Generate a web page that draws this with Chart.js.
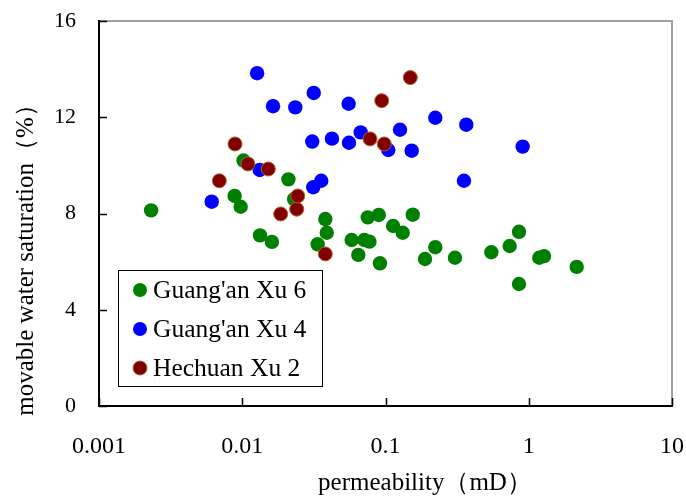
<!DOCTYPE html>
<html>
<head>
<meta charset="utf-8">
<script src="https://cdn.jsdelivr.net/npm/chart.js@4"></script>
<style>
  body { margin: 0; background: #fff; }
</style>
</head>
<body>
<canvas id="myChart" width="686" height="496"></canvas>
<script>
// axis ticks
const xTicks = [0.001, 0.01, 0.1, 1, 10];
const yTicks = [0, 4, 8, 12, 16];

// series names and axis titles
const names = ["Guang'an Xu 6", "Guang'an Xu 4", "Hechuan Xu 2"];
const xTitle = 'permeability（mD）';
const yTitle = 'movable water saturation（%）';

// Guang'an Xu 6 (green)
const xu6Perm = [0.00231, 0.00885, 0.00975, 0.0102, 0.0133, 0.0161, 0.021, 0.023, 0.0336, 0.038, 0.0389,
  0.058, 0.0646, 0.0711, 0.0752, 0.0772, 0.0897, 0.0915, 0.113, 0.1318, 0.155, 0.1887, 0.2227,
  0.3055, 0.548, 0.736, 0.855, 0.855, 1.185, 1.278, 2.161];
const xu6Sw = [8.13, 8.73, 8.28, 10.2, 7.09, 6.82, 9.42, 8.6, 6.72, 7.77, 7.2,
  6.9, 6.28, 6.9, 7.84, 6.83, 7.94, 5.93, 7.48, 7.2, 7.95, 6.11, 6.6,
  6.16, 6.39, 6.65, 7.24, 5.07, 6.16, 6.23, 5.78];

// Guang'an Xu 4 (blue)
const xu4Perm = [0.00612, 0.0127, 0.01324, 0.0164, 0.02346, 0.0308, 0.0313, 0.03155, 0.0356, 0.0423,
  0.0553, 0.0556, 0.0671, 0.1046, 0.1263, 0.1524, 0.2227, 0.353, 0.3664, 0.907];
const xu4Sw = [8.49, 13.83, 9.81, 12.46, 12.41, 10.99, 9.09, 13.01, 9.36, 11.11,
  12.56, 10.94, 11.37, 10.64, 11.48, 10.61, 11.98, 9.36, 11.69, 10.78];

// Hechuan Xu 2 (dark red)
const hcPerm = [0.00692, 0.0089, 0.01096, 0.0152, 0.01855, 0.024, 0.0244, 0.038, 0.078, 0.0941, 0.098, 0.149];
const hcSw = [9.36, 10.89, 10.06, 9.85, 7.98, 8.18, 8.73, 6.32, 11.1, 12.69, 10.89, 13.65];

function toPoints(xs, ys) {
  return xs.map((x, i) => ({ x: x, y: ys[i] }));
}

const serif = "'Liberation Serif', 'Times New Roman', serif";

// gray frame top/right, inward tick marks, axis titles, legend box
const framePlugin = {
  id: 'frame',
  afterDraw(chart) {
    const ctx = chart.ctx;
    const a = chart.chartArea;
    const xs = chart.scales.x;
    const ys = chart.scales.y;
    ctx.save();
    ctx.strokeStyle = '#a0a0a0';
    ctx.lineWidth = 2;
    ctx.beginPath();
    ctx.moveTo(a.left, a.top);
    ctx.lineTo(a.right, a.top);
    ctx.lineTo(a.right, a.bottom);
    ctx.stroke();

    ctx.strokeStyle = '#000';
    ctx.lineWidth = 2;
    ctx.beginPath();
    ctx.moveTo(a.left, a.top - 1);
    ctx.lineTo(a.left, a.bottom);
    ctx.lineTo(a.right + 1, a.bottom);
    ctx.stroke();

    ctx.lineWidth = 1.5;
    ctx.beginPath();
    yTicks.forEach(v => {
      const py = Math.round(ys.getPixelForValue(v)) + 0.5;
      ctx.moveTo(a.left, py);
      ctx.lineTo(a.left + 8, py);
    });
    xTicks.forEach(v => {
      const px = Math.round(xs.getPixelForValue(v)) + 0.5;
      ctx.moveTo(px, a.bottom);
      ctx.lineTo(px, a.bottom - 8);
    });
    ctx.stroke();

    // axis titles
    ctx.fillStyle = '#000';
    ctx.textBaseline = 'alphabetic';
    ctx.textAlign = 'center';
    ctx.font = '25px ' + serif;
    ctx.fillText(xTitle, 425, 490);
    ctx.save();
    ctx.translate(33, 254);
    ctx.rotate(-Math.PI / 2);
    ctx.font = '25px ' + serif;
    ctx.fillText(yTitle, 0, 0);
    ctx.restore();

    // legend
    const lx = 118, ly = 270, lw = 204, lh = 116;
    ctx.fillStyle = '#fff';
    ctx.fillRect(lx, ly, lw, lh);
    ctx.strokeStyle = '#000';
    ctx.lineWidth = 1;
    ctx.strokeRect(lx + 0.5, ly + 0.5, lw, lh);
    ctx.font = '25.5px ' + serif;
    ctx.textBaseline = 'middle';
    ctx.textAlign = 'left';
    chart.data.datasets.forEach((ds, i) => {
      const cy = ly + 20 + i * 39;
      ctx.beginPath();
      ctx.arc(lx + 22, cy, 7, 0, Math.PI * 2);
      ctx.fillStyle = ds.backgroundColor;
      ctx.fill();
      if (ds.borderWidth) {
        ctx.strokeStyle = ds.borderColor;
        ctx.lineWidth = 1;
        ctx.stroke();
      }
      ctx.fillStyle = '#000';
      ctx.fillText(ds.label, lx + 35, cy + 1);
    });
    ctx.restore();
  }
};

new Chart(document.getElementById('myChart'), {
  type: 'scatter',
  data: {
    datasets: [
      { label: names[0], data: toPoints(xu6Perm, xu6Sw), backgroundColor: '#008000', borderColor: '#008000', borderWidth: 0, pointRadius: 7.2, order: 3 },
      { label: names[1], data: toPoints(xu4Perm, xu4Sw), backgroundColor: '#0000ff', borderColor: '#0000ff', borderWidth: 0, pointRadius: 7.2, order: 2 },
      { label: names[2], data: toPoints(hcPerm, hcSw), backgroundColor: '#800000', borderColor: '#b06030', borderWidth: 1, pointRadius: 7, order: 1 }
    ]
  },
  options: {
    responsive: false,
    animation: false,
    layout: { padding: { left: 0, right: 14, top: 21, bottom: 0 } },
    plugins: {
      legend: { display: false },
      tooltip: { enabled: false }
    },
    scales: {
      x: {
        type: 'logarithmic',
        min: 0.001,
        max: 10,
        afterBuildTicks: (scale) => { scale.ticks = xTicks.map(v => ({ value: v })); },
        afterFit: (scale) => {
          scale.height = 90;
          scale.paddingLeft = 0;
          scale.paddingRight = 0;
        },
        grid: { display: false, drawTicks: false },
        border: { display: false },
        ticks: {
          color: '#000',
          font: { family: serif, size: 24 },
          padding: 26,
          maxRotation: 0,
          autoSkip: false,
          callback: (v) => String(v)
        }
      },
      y: {
        min: 0,
        max: 16,
        afterBuildTicks: (scale) => { scale.ticks = yTicks.map(v => ({ value: v })); },
        afterFit: (scale) => {
          scale.width = 99;
          scale.paddingTop = 0;
          scale.paddingBottom = 0;
        },
        grid: { display: false, drawTicks: false },
        border: { display: false },
        ticks: {
          color: '#000',
          font: { family: serif, size: 22 },
          padding: 23
        }
      }
    }
  },
  plugins: [framePlugin]
});
</script>
</body>
</html>
